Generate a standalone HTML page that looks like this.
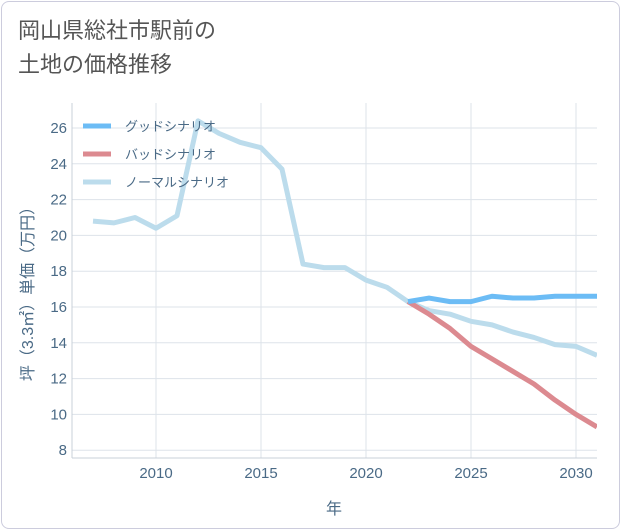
<!DOCTYPE html>
<html><head><meta charset="utf-8"><style>
body{margin:0;background:#fff;font-family:"Liberation Sans","Noto Sans CJK JP",sans-serif;}
#card{position:absolute;left:1px;top:1px;width:617px;height:526px;border:1px solid #ccd;border-radius:8px;background:#fff;}
#title{position:absolute;left:18px;top:14px;font-size:22px;line-height:34px;color:#555;}
</style></head><body>
<div id="card"></div>
<div id="title">岡山県総社市駅前の<br>土地の価格推移</div>
<svg id="chart" width="621" height="530" style="position:absolute;left:0;top:0"></svg>
<script>
const years=[2007,2008,2009,2010,2011,2012,2013,2014,2015,2016,2017,2018,2019,2020,2021,2022,2023,2024,2025,2026,2027,2028,2029,2030,2031];
const normalVals=[20.8,20.7,21.0,20.4,21.1,26.4,25.7,25.2,24.9,23.7,18.4,18.2,18.2,17.5,17.1,16.3,15.8,15.6,15.2,15.0,14.6,14.3,13.9,13.8,13.3];
const scenarioYears=[2022,2023,2024,2025,2026,2027,2028,2029,2030,2031];
const goodVals=[16.3,16.5,16.3,16.3,16.6,16.5,16.5,16.6,16.6,16.6];
const badVals=[16.3,15.6,14.8,13.8,13.1,12.4,11.7,10.8,10.0,9.3];
const xTicks=[2010,2015,2020,2025,2030];
const yTicks=[8,10,12,14,16,18,20,22,24,26];
const legendLabels=["グッドシナリオ","バッドシナリオ","ノーマルシナリオ"];
const legendColors=["#6cbcf5","#dc8a90","#bcdcec"];

const svg=document.getElementById('chart');const NS='http://www.w3.org/2000/svg';
const L=72,R=597,T=103,B=458;
const x=v=>156+(v-2010)*21;
const y=v=>128+(26-v)*17.9;
function mk(t,a){const e=document.createElementNS(NS,t);for(const k in a)e.setAttribute(k,a[k]);svg.appendChild(e);return e;}
xTicks.forEach(v=>{
 const g=mk('line',{x1:x(v),x2:x(v),y1:T,y2:B,stroke:'#dde3ea'});
 
 
 const t=mk('text',{x:x(v),y:B+20,'text-anchor':'middle','font-size':15,fill:'#4a6a86'});t.textContent=v;
 
 
});
yTicks.forEach(v=>{
 const g=mk('line',{x1:L,x2:R,y1:y(v),y2:y(v),stroke:'#dde3ea'});
 
 
 const t=mk('text',{x:L-5,y:y(v)+5,'text-anchor':'end','font-size':15,fill:'#4a6a86'});t.textContent=v;
 
 
});
const ax=mk('line',{x1:L,x2:L,y1:T,y2:B,stroke:'#c8d0d8'});


const ax2=mk('line',{x1:L,x2:R,y1:B,y2:B,stroke:'#c8d0d8'});


function line(xs,vs,c,name){
 const p=mk('polyline',{points:xs.map((v,i)=>x(v)+','+y(vs[i])).join(' '),fill:'none',stroke:c,'stroke-width':5,'stroke-linejoin':'round','clip-path':'url(#clip)'});
 
 
}
const defs=mk('defs',{});const cp=document.createElementNS(NS,'clipPath');cp.setAttribute('id','clip');
const cr=document.createElementNS(NS,'rect');cr.setAttribute('x',L);cr.setAttribute('y',T);cr.setAttribute('width',R-L);cr.setAttribute('height',B-T);cp.appendChild(cr);defs.appendChild(cp);
line(years,normalVals,legendColors[2],'normal-scenario-line');
line(scenarioYears,badVals,legendColors[1],'bad-scenario-line');
line(scenarioYears,goodVals,legendColors[0],'good-scenario-line');
legendLabels.forEach((s,i)=>{
 const yy=126+i*28;
 const l=mk('line',{x1:83,x2:111,y1:yy,y2:yy,stroke:legendColors[i],'stroke-width':5});
 
 
 const t=mk('text',{x:125,y:yy+5,'font-size':13,fill:'#4a6a86'});t.textContent=s;
 
 
});
const xt=mk('text',{x:334,y:514,'text-anchor':'middle','font-size':16,fill:'#4a6a86'});xt.textContent='年';


const yt=mk('text',{x:0,y:0,'text-anchor':'middle','font-size':16,fill:'#4a6a86',transform:'translate(33,290) rotate(-90)'});yt.textContent='坪（3.3㎡）単価（万円）';


</script>
</body></html>
